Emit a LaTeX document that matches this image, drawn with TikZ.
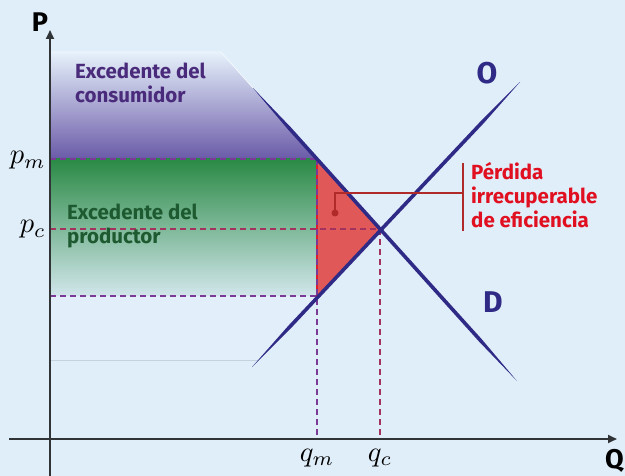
\documentclass[tikz,border=0pt]{standalone}
\usepackage{fontspec}
\usepackage{graphicx}
\setsansfont{Fira Sans}
\usetikzlibrary{arrows.meta,calc}
\definecolor{bg}{HTML}{E0EEFA}
\definecolor{navy}{HTML}{2E2A85}
\definecolor{cspurple}{HTML}{6A5AA8}
\definecolor{csgreen}{HTML}{2A8A45}
\definecolor{dlred}{HTML}{E05858}
\definecolor{dashpurple}{HTML}{7B3A96}
\definecolor{dashcrimson}{HTML}{A3325E}
\definecolor{txtpurple}{HTML}{4A2A7A}
\definecolor{txtgreen}{HTML}{1E5A30}
\definecolor{txtred}{HTML}{E01020}
\definecolor{annot}{HTML}{B02A2A}
\definecolor{axisgray}{HTML}{303436}
\tikzset{
  axisline/.style={draw=axisgray,line width=2.2pt,-{Triangle[length=9pt,width=8pt]}},
  dashp/.style={draw=dashpurple,line width=1.4pt,dash pattern=on 6pt off 4pt},
  dashc/.style={draw=dashcrimson,line width=1.4pt,dash pattern=on 6pt off 4pt},
  bigtxt/.style={font=\sffamily\bfseries\fontsize{20.5}{24}\selectfont,align=left,inner sep=0pt},
  curvelbl/.style={font=\sffamily\bfseries\fontsize{30}{30}\selectfont,text=navy,inner sep=0pt},
  axislbl/.style={font=\sffamily\bfseries\fontsize{27}{27}\selectfont,text=black,inner sep=0pt},
  mathlbl/.style={inner sep=0pt}
}
\newcommand{\taperline}[3]{%
  \fill[navy] (#1) -- ($(#1)!#3!(#2)!1.8pt!90:(#2)$) -- ($(#2)!#3!(#1)!1.8pt!-90:(#1)$) -- (#2)
    -- ($(#2)!#3!(#1)!1.8pt!90:(#1)$) -- ($(#1)!#3!(#2)!1.8pt!-90:(#2)$) -- cycle;}
\newcommand{\bigmath}[1]{\scalebox{2.85}{$#1$}}
\begin{document}
\begin{tikzpicture}[x=1pt,y=-1pt]
\fill[bg] (0,0) rectangle (625,476);
\useasboundingbox (0,0) rectangle (625,476);
% key points
\coordinate (Dtop) at (253,88);
\coordinate (Dbot) at (517,381);
\coordinate (Otop) at (520,82);
\coordinate (Obot) at (252,367);
\coordinate (E) at (380,229);
\coordinate (Am) at (317,159);
\coordinate (Bm) at (317,296);
% consumer surplus
\shade[top color=bg!80!white,bottom color=cspurple] (50,52) -- (221,52) -- (Am) -- (50,159) -- cycle;
\draw[white!60!bg,line width=0.8pt] (50,52) -- (221,52) -- (Dtop);
% producer surplus
\fill[bg!93!white] (50,296) -- (Bm) -- (258,360) -- (50,360) -- cycle;
\shade[top color=csgreen,middle color=csgreen!40!bg,bottom color=csgreen!8!bg] (50,159) rectangle (Bm);
\draw[black!12!bg,line width=0.8pt] (50,360) -- (258,360);
% deadweight loss
\fill[dlred] (Am) -- (E) -- (Bm) -- cycle;
\draw[txtred!80!dlred,line width=1.2pt] (Am) -- (Bm);
% dashed guides
\draw[dashp] (50,159) -- (Am);
\draw[dashc] (50,229) -- (E);
\draw[dashp] (50,296) -- (Bm);
\draw[dashp] (Am) -- (317,439);
\draw[dashc] (E) -- (380,439);
% curves
\taperline{Dtop}{Dbot}{55pt}
\taperline{Obot}{Otop}{55pt}
% axes
\draw[axisline] (9,439) -- (617,439);
\draw[axisline] (50,476) -- (50,30);
% axis labels
\node[axislbl] (P) at (40,22) {P};
\node[axislbl,anchor=south east] (Q) at (624,473) {Q};
\node[curvelbl] (O) at (487,73) {O};
\node[curvelbl] (D) at (493,302) {D};
\node[mathlbl,anchor=base east] (pm) at (46,164) {\bigmath{p_m}};
\node[mathlbl,anchor=base east] (pc) at (46,233) {\bigmath{p_c}};
\node[mathlbl,anchor=base] (qm) at (317,461) {\bigmath{q_m}};
\node[mathlbl,anchor=base] (qc) at (380,461) {\bigmath{q_c}};
% surplus labels
\node[bigtxt,text=txtpurple,anchor=north west] (cs) at (75,63) {Excedente del\\consumidor};
\node[bigtxt,text=txtgreen,anchor=north west] (ps) at (67,204) {Excedente del\\productor};
% annotation
\coordinate (bartop) at (463,163);
\coordinate (barbot) at (463,231);
\coordinate (bend) at (335,193);
\fill[annot] (335,213) circle (3.5pt) coordinate (dot);
\draw[annot,line width=1.3pt] (dot) -- (bend) -- (463,193);
\draw[annot,line width=1.8pt] (bartop) -- (barbot);
\node[bigtxt,text=txtred,anchor=north west] (dwl) at (471,162) {Pérdida\\irrecuperable\\de eficiencia};
\end{tikzpicture}
\end{document}
